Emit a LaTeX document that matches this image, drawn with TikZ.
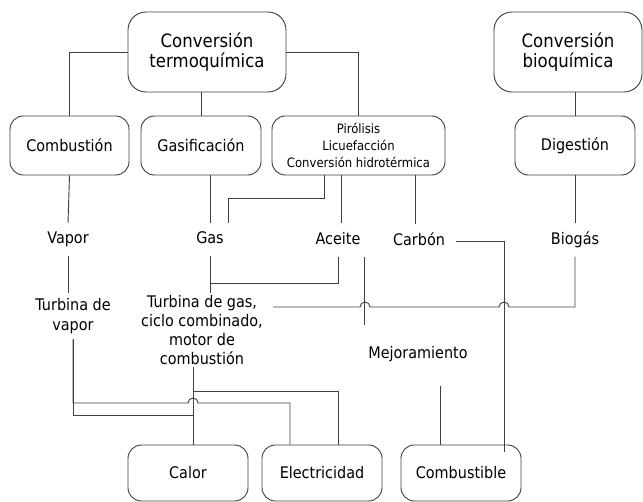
\documentclass[tikz,border=0pt]{standalone}
\usepackage{fontspec}
\setmainfont{DejaVu Sans}[FakeStretch=0.9]
\usepackage{tikz}
\usetikzlibrary{positioning}
\usetikzlibrary{calc}

\begin{document}
\begin{tikzpicture}
  [
    x=0.75pt, y=-0.75pt,
    box/.style={draw=black!75, line width=0.7pt, rounded corners=10pt,
      minimum width=90pt, minimum height=44.25pt, align=center,
      font=\fontsize{12}{14.5}\selectfont},
    bigbox/.style={box, rounded corners=13.5pt, minimum height=60pt,
      font=\fontsize{13.8}{15}\selectfont},
    endbox/.style={box, minimum height=42pt},
    lbl/.style={inner xsep=3pt, inner ysep=6.6pt, text height=9pt,
      text depth=2.5pt, font=\fontsize{12}{14.5}\selectfont},
    wire/.style={draw=black!75, line width=0.7pt}
  ]
  \useasboundingbox (0,0) rectangle (643,502);

  \node (termo) at (207,52)  [bigbox, minimum width=118.5pt] {Conversión\\termoquímica};
  \node (bio)   at (568,52)  [bigbox, minimum width=111pt]   {Conversión\\bioquímica};

  \node (comb)  at (69.5,145.5)  [box, minimum width=89.25pt] {Combustión};
  \node (gasif) at (201,145.5)   [box] {Gasificación};
  \node (piro)  at (358.5,145.5) [box, minimum width=129.75pt,
                                  font=\fontsize{9.7}{13}\selectfont]
                {Pirólisis\\Licuefacción\\Conversión hidrotérmica};
  \node (dig)   at (575,145.5)   [box] {Digestión};

  \node (vapor)  at (68,239.5)  [lbl] {Vapor};
  \node (gas)    at (210,239.5) [lbl] {Gas};
  \node (aceite) at (338,240)   [lbl] {Aceite};
  \node (carbon) at (419,241)   [lbl, inner xsep=8pt] {Carbón};
  \node (biogas) at (575,240)   [lbl] {Biogás};

  \node (tvapor) at (73,316) [align=center, inner ysep=4pt,
                              font=\fontsize{12}{15}\selectfont] {Turbina de\\vapor};
  \node (tgas)   at (202,330) [align=center, inner xsep=7.5pt, inner ysep=1.5pt,
                              font=\fontsize{12}{14.25}\selectfont]
                {Turbina de gas,\\ciclo combinado,\\motor de\\combustión};
  \node (mejora) at (418,354) [lbl] {Mejoramiento};

  \node (calor)  at (188,473) [endbox] {Calor};
  \node (elec)   at (322,473) [endbox] {Electricidad};
  \node (combus) at (461,473) [endbox] {Combustible};

  % ramas superiores
  \draw [wire] (termo.west) -| (comb.north);
  \draw [wire] (termo.south -| gasif.north) -- (gasif.north);
  \draw [wire] (termo.east) -| (piro.north);
  \draw [wire] (bio.south -| dig.north) -- (dig.north);

  \draw [wire] (comb.south) -- (vapor.north);
  \draw [wire] (gasif.south -| gas.north) -- (gas.north);
  \draw [wire] (piro.south -| 324,0) |- (228,198) -- (gas.north -| 228,0);
  \draw [wire] (piro.south -| 341,0) -- (aceite.north -| 341,0);
  \draw [wire] (piro.south -| 415,0) -- (carbon.north -| 415,0);
  \draw [wire] (dig.south) -- (biogas.north);

  % productos intermedios
  \draw [wire] (vapor.south) -- (tvapor.north -| vapor.south);
  \draw [wire] (gas.south) -- (tgas.north -| gas.south);
  \draw [wire] (aceite.south) |- (gas.south |- 0,283);
  \draw [wire] (biogas.south) |- (509,307) arc (0:180:3.75pt)
    -- (370,307) arc (0:180:3.75pt) -- (tgas.east |- 0,307);
  \draw [wire] (aceite.south east) -- ++(0,68);
  \draw [wire] (carbon.east) -| ($(combus.north east)+(-17,7)$);
  \draw [wire] (combus.north -| 440,0) -- ++(0,-59);

  % calor y electricidad
  \draw [wire] (tgas.south -| 193,0) -- (calor.north -| 193,0);
  \draw [wire] (tgas.south -| 193,0) |- (338,391) -- (elec.north -| 338,0);
  \draw [wire] (tvapor.south) |- (188,403) arc (180:0:3.75pt)
    -- (290,403) -- (elec.north -| 290,0);
  \draw [wire] (tvapor.south) |- (193,415);
\end{tikzpicture}
\end{document}
